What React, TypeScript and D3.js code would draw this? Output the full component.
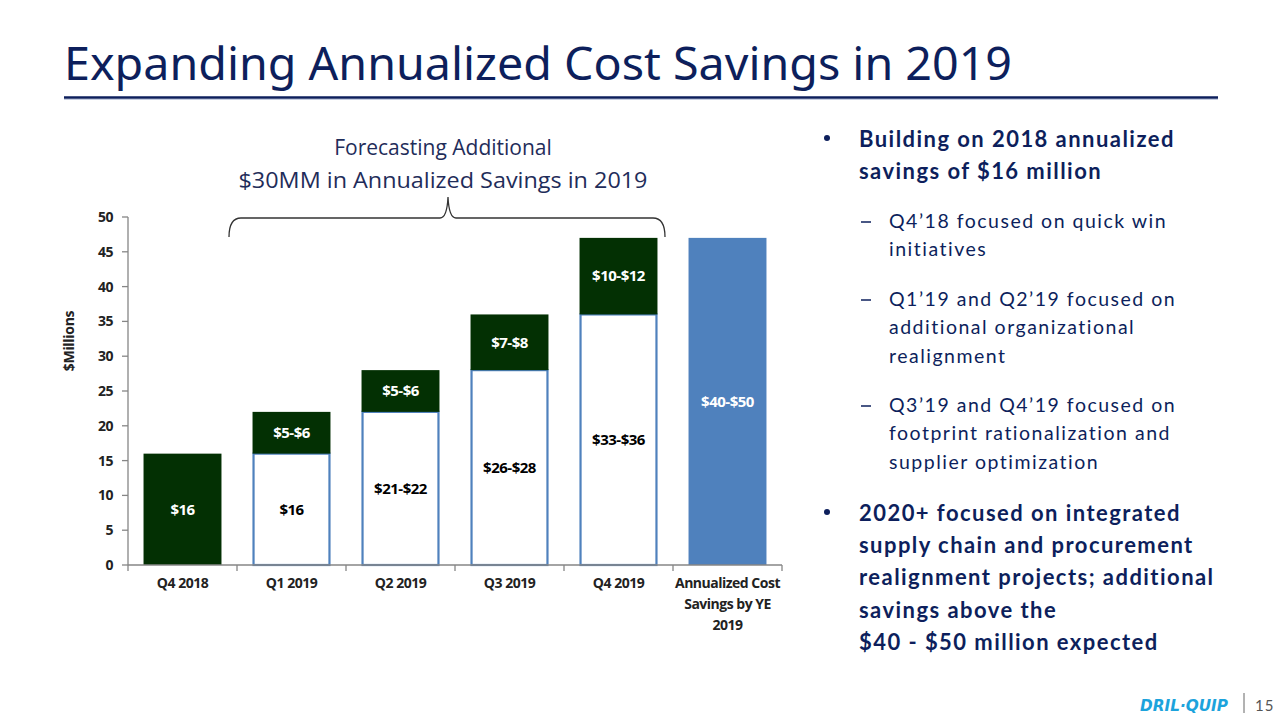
import React from "react";
import * as d3 from "d3";

const categories = ["Q4 2018", "Q1 2019", "Q2 2019", "Q3 2019", "Q4 2019", "Annualized Cost Savings by YE 2019"];
const categoryLines = [["Q4 2018"], ["Q1 2019"], ["Q2 2019"], ["Q3 2019"], ["Q4 2019"], ["Annualized Cost", "Savings by YE", "2019"]];
const achievedValues = [0, 16, 22, 28, 36, 0];
const addedValues = [16, 6, 6, 8, 11, 0];
const totalValues = [0, 0, 0, 0, 0, 47];
const achievedLabels = ["", "$16", "$21-$22", "$26-$28", "$33-$36", ""];
const addedLabels = ["$16", "$5-$6", "$5-$6", "$7-$8", "$10-$12", ""];
const totalLabels = ["", "", "", "", "", "$40-$50"];
const yTicks = [0, 5, 10, 15, 20, 25, 30, 35, 40, 45, 50];

const NAVY = "#0d1f5c";
const GREEN = "#033003";
const BLUE = "#4f81bd";
const CHART_FONT = "'Open Sans', 'Noto Sans', sans-serif";
const SLIDE_FONT = "Lato, 'Noto Sans', sans-serif";

const bullets: { kind: "main" | "sub"; lines: string[] }[] = [
  { kind: "main", lines: ["Building on 2018 annualized", "savings of $16 million"] },
  { kind: "sub", lines: ["Q4\u201918 focused on quick win", "initiatives"] },
  { kind: "sub", lines: ["Q1\u201919 and Q2\u201919 focused on", "additional organizational", "realignment"] },
  { kind: "sub", lines: ["Q3\u201919 and Q4\u201919 focused on", "footprint rationalization and", "supplier optimization"] },
  { kind: "main", lines: ["2020+ focused on integrated", "supply chain and procurement", "realignment projects; additional", "savings above the", "$40 - $50 million expected"] },
];

export default function App() {
  const left = 128, right = 782, top = 217, bottom = 565;
  const x = d3.scaleBand<string>().domain(categories).range([left, right]).paddingInner(0.285).paddingOuter(0.1425);
  const y = d3.scaleLinear().domain([0, 50]).range([bottom, top]);
  const bw = x.bandwidth();
  const step = x.step();

  // bracket geometry
  const bx0 = 229, bx1 = 665, bmid = 448, by = y(50) + 1, bend = 237, bpeak = 197;
  const bracket = d3.path();
  bracket.moveTo(bx0, bend);
  bracket.quadraticCurveTo(bx0, by, bx0 + 12, by);
  bracket.lineTo(bmid - 8, by);
  bracket.quadraticCurveTo(bmid - 1, by, bmid, bpeak);
  bracket.quadraticCurveTo(bmid + 1, by, bmid + 8, by);
  bracket.lineTo(bx1 - 12, by);
  bracket.quadraticCurveTo(bx1, by, bx1, bend);

  // right text layout
  const textRows: React.ReactNode[] = [];
  const mainStarts = [139, 513];
  const subStarts = [221, 299, 405];
  let mi = 0, si = 0;
  bullets.forEach((b, bi) => {
    if (b.kind === "main") {
      const y0 = mainStarts[mi++];
      textRows.push(<circle key={`bd${bi}`} cx={827} cy={y0 - 1} r={3} fill={NAVY} />);
      b.lines.forEach((l, li) => {
        textRows.push(
          <text key={`b${bi}-${li}`} x={859} y={y0 + li * 32.3} dy="0.35em" fontFamily={SLIDE_FONT} fontWeight={700} fontSize={22} letterSpacing={1.45} fill={NAVY}>{l}</text>
        );
      });
    } else {
      const y0 = subStarts[si++];
      textRows.push(<line key={`sd${bi}`} x1={861} x2={871} y1={y0 + 1} y2={y0 + 1} stroke={NAVY} strokeWidth={1.5} />);
      b.lines.forEach((l, li) => {
        textRows.push(
          <text key={`s${bi}-${li}`} x={889} y={y0 + li * 28.5} dy="0.35em" fontFamily={SLIDE_FONT} fontWeight={400} fontSize={19.5} letterSpacing={1.5} fill={NAVY}>{l}</text>
        );
      });
    }
  });

  return (
    <svg width={1280} height={720} style={{ position: "absolute", left: 0, top: 0, background: "#fff" }}>
      {/* Title */}
      <text x={64} y={80} fontFamily="'Noto Sans', Lato, sans-serif" fontSize={45} fill={NAVY} textLength={948} lengthAdjust="spacingAndGlyphs">
        Expanding Annualized Cost Savings in 2019
      </text>
      <line x1={64} x2={1218} y1={97.5} y2={97.5} stroke={NAVY} strokeWidth={2.5} />
      <line x1={64} x2={1218} y1={99.5} y2={99.5} stroke="#c5cde0" strokeWidth={1} />

      {/* Header above chart */}
      <text x={443} y={148} dy="0.35em" textAnchor="middle" fontFamily={CHART_FONT} fontSize={21} fill="#1f2d5a">Forecasting Additional</text>
      <text x={443} y={181} dy="0.35em" textAnchor="middle" fontFamily={CHART_FONT} fontSize={21} fill="#1f2d5a" textLength={409} lengthAdjust="spacingAndGlyphs">$30MM in Annualized Savings in 2019</text>
      <path d={bracket.toString()} fill="none" stroke="#333" strokeWidth={1.3} />

      {/* Bars */}
      {categories.map((c, i) => {
        const x0 = x(c)!;
        const a = achievedValues[i], g = addedValues[i], t = totalValues[i];
        return (
          <g key={c}>
            {a > 0 && (
              <rect x={x0 + 1} y={y(a)} width={bw - 2} height={y(0) - y(a)} fill="#fff" stroke={BLUE} strokeWidth={2.2} />
            )}
            {g > 0 && (
              <rect x={x0} y={y(a + g)} width={bw} height={y(a) - y(a + g)} fill={GREEN} />
            )}
            {t > 0 && <rect x={x0} y={y(t)} width={bw} height={y(0) - y(t)} fill={BLUE} />}
            {achievedLabels[i] && (
              <text x={x0 + bw / 2} y={y(a / 2)} dy="0.35em" textAnchor="middle" fontFamily={CHART_FONT} fontWeight={700} fontSize={15} letterSpacing={-0.5} fill="#000">{achievedLabels[i]}</text>
            )}
            {addedLabels[i] && (
              <text x={x0 + bw / 2} y={y(a + g / 2)} dy="0.35em" textAnchor="middle" fontFamily={CHART_FONT} fontWeight={700} fontSize={15} letterSpacing={-0.5} fill="#fff">{addedLabels[i]}</text>
            )}
            {totalLabels[i] && (
              <text x={x0 + bw / 2} y={y(t / 2)} dy="0.35em" textAnchor="middle" fontFamily={CHART_FONT} fontWeight={700} fontSize={15} letterSpacing={-0.5} fill="#fff">{totalLabels[i]}</text>
            )}
          </g>
        );
      })}

      {/* Y axis */}
      <line x1={left} x2={left} y1={top} y2={bottom} stroke="#868686" strokeWidth={1.3} />
      {yTicks.map((t) => (
        <g key={t}>
          <line x1={left - 6} x2={left} y1={y(t)} y2={y(t)} stroke="#868686" strokeWidth={1.3} />
          <text x={113} y={y(t)} dy="0.35em" textAnchor="end" fontFamily={CHART_FONT} fontWeight={700} fontSize={14} letterSpacing={-0.5} fill="#222">{t}</text>
        </g>
      ))}
      <text transform={`translate(69,341) rotate(-90)`} textAnchor="middle" dy="0.35em" fontFamily={CHART_FONT} fontWeight={700} fontSize={14} letterSpacing={-0.3} fill="#222">$Millions</text>

      {/* X axis */}
      <line x1={left} x2={right} y1={bottom} y2={bottom} stroke="#868686" strokeWidth={1.3} />
      {d3.range(categories.length + 1).map((k) => (
        <line key={k} x1={left + k * step} x2={left + k * step} y1={bottom} y2={bottom + 6} stroke="#868686" strokeWidth={1.3} />
      ))}
      {categories.map((c, i) => (
        <text key={c} x={x(c)! + bw / 2} y={583} textAnchor="middle" fontFamily={CHART_FONT} fontWeight={700} fontSize={14} letterSpacing={-0.5} fill="#222">
          {categoryLines[i].map((l, li) => (
            <tspan key={li} x={x(c)! + bw / 2} dy={li === 0 ? "0.35em" : 21}>{l}</tspan>
          ))}
        </text>
      ))}

      {/* Right text */}
      {textRows}

      {/* Footer */}
      <text x={1140} y={711} fontFamily="'DejaVu Sans', sans-serif" fontWeight={700} fontStyle="italic" fontSize={16} fill="#1ca3dc" textLength={88} lengthAdjust="spacingAndGlyphs">DRIL·QUIP</text>
      <line x1={1244} x2={1244} y1={693} y2={713} stroke="#666" strokeWidth={1} />
      <text x={1255} y={711} fontFamily={SLIDE_FONT} fontSize={15} fill="#555" letterSpacing={1}>15</text>
    </svg>
  );
}
